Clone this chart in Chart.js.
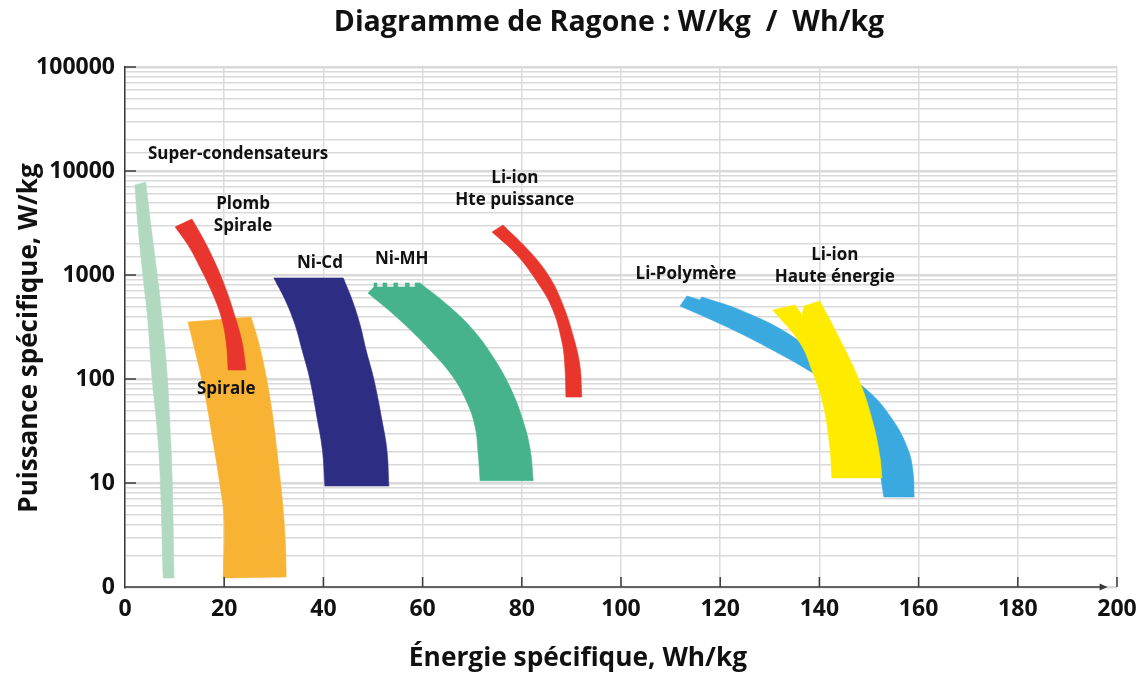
<!DOCTYPE html>
<html lang="fr">
<head>
<meta charset="utf-8">
<title>Diagramme de Ragone</title>
<script src="https://cdn.jsdelivr.net/npm/chart.js@4.4.1/dist/chart.umd.min.js"></script>
<style>
  html, body { margin: 0; padding: 0; background: #ffffff; }
  #wrap { width: 1147px; height: 678px; }
</style>
</head>
<body>
<div id="wrap"><canvas id="ragone" width="1147" height="678"></canvas></div>
<script>
// Each technology zone is outlined by its edges, points as [énergie Wh/kg, puissance W/kg]
const superCondensateurs = [
  [[2.0,7330],[4.2,7800]],
  [[4.2,7800],[5.2,3030],[6.5,1000],[7.5,369],[8.5,109],[9.1,32.3],[9.5,11.2],[9.9,1.22]],
  [[9.9,1.22],[7.7,1.22]],
  [[7.7,1.22],[7.1,11.2],[6.5,32.3],[5.4,109],[4.6,369],[3.6,1000],[2.6,3030],[2.0,7330]]
];
const plombSpirale = [
  [[10.1,2900],[13.5,3450]],
  [[13.5,3450],[15.9,2170],[18.1,1330],[20.4,720],[22.2,395],[23.6,227],[24.4,122]],
  [[24.4,122],[20.8,122]],
  [[20.8,122],[20.4,227],[19.4,395],[17.5,690],[15.1,1190],[12.7,1940],[10.1,2900]]
];
const spirale = [
  [[12.7,353],[25.4,395]],
  [[25.4,395],[26.8,237],[28.2,122],[29.6,50],[30.6,20.8],[31.7,6.9],[32.3,2.8],[32.5,1.25]],
  [[32.5,1.25],[19.8,1.22]],
  [[19.8,1.22],[20.0,4.4],[19.0,10.7],[17.7,25.9],[16.7,50],[15.5,98],[14.1,190],[12.7,353]]
];
const niCd = [
  [[30.0,936],[44.0,936]],
  [[44.0,936],[45.8,575],[47.4,331],[48.6,190],[50.2,98],[51.8,40.3],[52.8,20.8],[53.2,9.36]],
  [[53.2,9.36],[40.3,9.36]],
  [[40.3,9.36],[39.8,20.8],[38.8,40.3],[37.3,98],[35.7,190],[34.3,331],[32.3,575],[30.0,936]]
];
const niMH = [
  [[49.0,671],[50.2,767],[50.2,838],[50.8,838],[50.8,767],[52.0,767],[52.0,838],[52.8,838],[52.8,767],
   [54.2,767],[54.2,838],[55.0,838],[55.0,767],[56.5,767],[56.5,838],[57.3,838],[57.3,767],[58.5,767],[58.5,838],[59.5,838]],
  [[59.5,838],[65.5,492],[70.2,296],[74.2,163],[77.6,84],[80.2,40.3],[81.7,20.8],[82.3,10.5]],
  [[82.3,10.5],[71.6,10.5]],
  [[71.6,10.5],[71.2,19.4],[70.6,34.5],[69.0,58.8],[66.1,105],[61.5,190],[55.4,369],[49.0,671]]
];
const liIonPuissance = [
  [[74.0,2590],[76.2,3030]],
  [[76.2,3030],[81.7,1660],[85.7,936],[88.3,515],[90.3,265],[91.7,136],[92.1,67]],
  [[92.1,67],[88.9,67]],
  [[88.9,67],[88.7,128],[88.1,227],[86.1,482],[83.1,857],[79.0,1560],[74.0,2590]]
];
const liPolymere = [
  [[111.9,503],[113.3,628],[115.9,575],[116.3,614]],
  [[116.3,614],[124.0,461],[133.5,277],[141.5,143],[149.6,78.4],[154.8,40.3],[157.9,20.8],[158.9,12.5],[159.1,7.33]],
  [[159.1,7.33],[153.0,7.33]],
  [[153.0,7.33],[151.8,15.6],[149.6,32.3],[145.6,67],[138.7,114],[129.4,203],[121.4,316],[111.9,503]]
];
const liIonEnergie = [
  [[130.6,461],[135.1,515],[136.5,412],[136.9,503],[140.1,562]],
  [[140.1,562],[144.2,237],[148.2,92],[150.8,37.8],[152.2,17.8],[152.6,11.2]],
  [[152.6,11.2],[142.5,11.2]],
  [[142.5,11.2],[142.1,22.2],[140.7,58.8],[138.7,114],[136.1,222],[130.6,461]]
];

// Zone names and label anchor points [Wh/kg, W/kg]
const zoneLabels = [
  { lines: ['Super-condensateurs'], at: [22.8, 14560] },
  { lines: ['Plomb', 'Spirale'], at: [23.8, 3775] },
  { lines: ['Spirale'], at: [20.4, 80] },
  { lines: ['Ni-Cd'], at: [39.3, 1300] },
  { lines: ['Ni-MH'], at: [55.8, 1425] },
  { lines: ['Li-ion', 'Hte puissance'], at: [78.6, 6700] },
  { lines: ['Li-Polymère'], at: [113.1, 1020] },
  { lines: ['Li-ion', 'Haute énergie'], at: [143.1, 1220] }
];

// Axis ticks
const energyTicks = [0, 20, 40, 60, 80, 100, 120, 140, 160, 180, 200];
const powerDecades = [1, 10, 100, 1000, 10000, 100000];
const powerTickLabels = ['0', '10', '100', '1000', '10000', '100000'];

const FONT = '"Open Sans", "Noto Sans", "DejaVu Sans", sans-serif';

// First listed = drawn on top. Edges flagged sharp keep every vertex as a corner.
const zones = [
  { name: 'Li-ion Haute énergie', edges: liIonEnergie, sharp: [0], color: '#ffeb00' },
  { name: 'Li-Polymère', edges: liPolymere, sharp: [0], color: '#39a9df' },
  { name: 'Li-ion Hte puissance', edges: liIonPuissance, sharp: [], color: '#e8362d' },
  { name: 'Ni-MH', edges: niMH, sharp: [0], color: '#46b38c' },
  { name: 'Ni-Cd', edges: niCd, sharp: [], color: '#2e2d84' },
  { name: 'Plomb Spirale', edges: plombSpirale, sharp: [], color: '#e8352d' },
  { name: 'Spirale', edges: spirale, sharp: [], color: '#f8b334' },
  { name: 'Super-condensateurs', edges: superCondensateurs, sharp: [], color: '#b0d9bf' }
];

// Closed outline: repeated vertices pin the spline at the band corners
function outline(zone) {
  const out = [];
  zone.edges.forEach((edge, i) => {
    if (zone.sharp.includes(i)) {
      edge.forEach(p => { out.push(p, p); });
    } else {
      out.push(edge[0]);
      edge.forEach(p => out.push(p));
      out.push(edge[edge.length - 1]);
    }
  });
  return out.map(p => ({ x: p[0], y: p[1] }));
}

const isDecade = v => powerDecades.some(d => Math.abs(v - d) < 1e-9 * d);

const decor = {
  id: 'ragoneDecor',
  afterDraw(chart) {
    const ctx = chart.ctx;
    const xs = chart.scales.x, ys = chart.scales.y;
    const a = chart.chartArea;
    ctx.save();
    // x axis line with arrow
    ctx.strokeStyle = '#3a3a3a';
    ctx.fillStyle = '#3a3a3a';
    ctx.lineWidth = 1.5;
    const yAxis = ys.getPixelForValue(1);
    const xEnd = xs.getPixelForValue(197.5);
    ctx.beginPath();
    ctx.moveTo(a.left, yAxis);
    ctx.lineTo(xEnd, yAxis);
    ctx.stroke();
    ctx.beginPath();
    ctx.moveTo(xEnd + 3, yAxis);
    ctx.lineTo(xEnd - 5, yAxis - 3.5);
    ctx.lineTo(xEnd - 5, yAxis + 3.5);
    ctx.closePath();
    ctx.fill();
    // inner tick marks
    energyTicks.slice(1).forEach(v => {
      const px = xs.getPixelForValue(v);
      ctx.beginPath();
      ctx.moveTo(px, yAxis);
      ctx.lineTo(px, yAxis - 10);
      ctx.stroke();
    });
    powerDecades.slice(1).forEach(v => {
      const py = ys.getPixelForValue(v);
      ctx.beginPath();
      ctx.moveTo(a.left, py);
      ctx.lineTo(a.left + 11, py);
      ctx.stroke();
    });
    // zone labels
    ctx.fillStyle = '#111111';
    ctx.font = 'bold 17px ' + FONT;
    ctx.textAlign = 'center';
    ctx.textBaseline = 'middle';
    zoneLabels.forEach(l => {
      const cx = xs.getPixelForValue(l.at[0]);
      const cy = ys.getPixelForValue(l.at[1]);
      const lh = 22;
      const y0 = cy - (l.lines.length - 1) * lh / 2;
      l.lines.forEach((t, i) => ctx.fillText(t, cx, y0 + i * lh));
    });
    // titles
    ctx.font = 'bold 28.5px ' + FONT;
    ctx.fillText('Diagramme de Ragone : W/kg  /  Wh/kg', 609, 23);
    ctx.font = 'bold 26.3px ' + FONT;
    ctx.fillText('Énergie spécifique, Wh/kg', 578, 659);
    ctx.font = 'bold 26px ' + FONT;
    ctx.translate(30, 338);
    ctx.rotate(-Math.PI / 2);
    ctx.fillText('Puissance spécifique, W/kg', 0, 0);
    ctx.restore();
  }
};

new Chart(document.getElementById('ragone'), {
  type: 'scatter',
  data: {
    datasets: zones.map(z => ({
      label: z.name,
      data: outline(z),
      showLine: true,
      fill: 'shape',
      tension: 0.4,
      backgroundColor: z.color,
      borderColor: z.color,
      borderWidth: 0.6,
      pointRadius: 0,
      pointHoverRadius: 0
    }))
  },
  options: {
    responsive: false,
    animation: false,
    devicePixelRatio: 1,
    layout: { padding: { top: 67, right: 30, left: 0, bottom: 0 } },
    plugins: { legend: { display: false }, tooltip: { enabled: false }, title: { display: false } },
    scales: {
      x: {
        type: 'linear', min: 0, max: 200,
        afterBuildTicks: s => { s.ticks = energyTicks.map(v => ({ value: v })); },
        ticks: { color: '#111', font: { family: FONT, size: 23, weight: 'bold' }, padding: 9, maxRotation: 0, autoSkip: false },
        grid: { color: '#dcdcdc', lineWidth: 1.5, drawTicks: false },
        border: { display: false },
        afterFit: s => { s.height = 91; }
      },
      y: {
        type: 'logarithmic', min: 1, max: 100000,
        ticks: {
          autoSkip: false, color: '#111', padding: 10,
          font: { family: FONT, size: 23, weight: 'bold' },
          callback: v => { const i = powerDecades.findIndex(d => Math.abs(v - d) < 1e-9 * d); return i >= 0 ? powerTickLabels[i] : ''; }
        },
        grid: {
          drawTicks: false,
          color: '#d9d9d9',
          lineWidth: c => (c.tick && isDecade(c.tick.value)) ? 2.5 : 1.4
        },
        border: { display: true, color: '#3a3a3a', width: 1.5 },
        afterFit: s => { s.width = 125; }
      }
    }
  },
  plugins: [decor]
});
</script>
</body>
</html>
